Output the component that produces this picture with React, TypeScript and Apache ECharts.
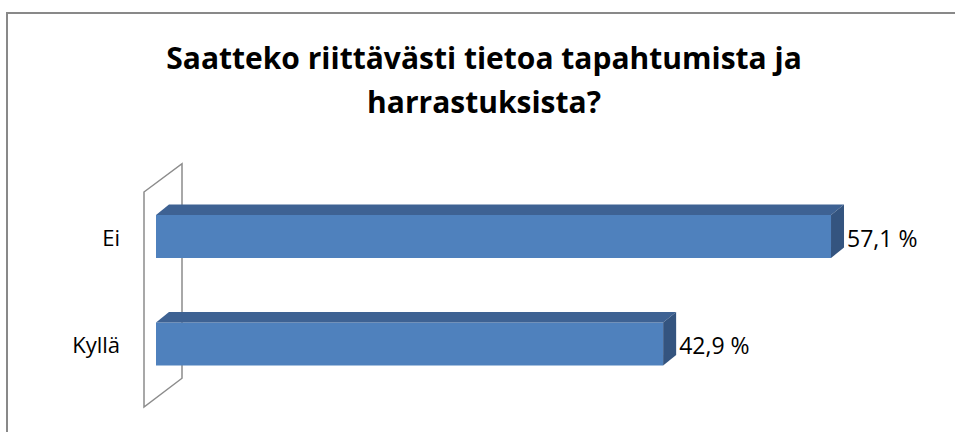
import React, { useEffect, useRef } from "react";
import * as echarts from "echarts";

const titleLines = ["Saatteko riittävästi tietoa tapahtumista ja", "harrastuksista?"];
const categories = ["Kyllä", "Ei"];
const values = [42.9, 57.1];

const FONT = "'Open Sans', 'Liberation Sans', sans-serif";

export default function App() {
  const ref = useRef<HTMLDivElement>(null);
  useEffect(() => {
    document.body.style.margin = "0";
    document.body.style.overflow = "hidden";
    document.documentElement.style.overflow = "hidden";
    const chart = echarts.init(ref.current!, null, { renderer: "svg" });
    const dx = 13;
    const dy = -10.5;
    const option: any = {
      animation: false,
      backgroundColor: "#ffffff",
      grid: { left: 156, right: 89.7, top: 182.75, bottom: 34.25, containLabel: false },
      xAxis: { type: "value", min: 0, max: 60, show: false },
      yAxis: {
        type: "category",
        data: categories,
        axisLine: { show: false },
        axisTick: { show: false },
        splitLine: { show: false },
        axisLabel: {
          margin: 36,
          color: "#000",
          fontSize: 22,
          fontFamily: FONT,
          verticalAlign: "middle",
          padding: [32, 0, 0, 0],
        },
      },
      graphic: [
        {
          type: "line",
          shape: { x1: 7, y1: 12, x2: 7, y2: 432 },
          style: { stroke: "#898989", lineWidth: 2 },
          z: 0,
        },
        {
          type: "line",
          shape: { x1: 6, y1: 13, x2: 955, y2: 13 },
          style: { stroke: "#898989", lineWidth: 2 },
          z: 0,
        },
        {
          type: "text",
          x: 484,
          y: 57,
          style: {
            text: titleLines[0],
            textAlign: "center",
            textVerticalAlign: "middle",
            font: `bold 30px ${FONT}`,
            fill: "#000",
          },
        },
        {
          type: "text",
          x: 484,
          y: 101,
          style: {
            text: titleLines[1],
            textAlign: "center",
            textVerticalAlign: "middle",
            font: `bold 30px ${FONT}`,
            fill: "#000",
          },
        },
      ],
      series: [
        {
          type: "custom",
          z: 1,
          silent: true,
          data: [[0, 0]],
          encode: { x: 0, y: 1 },
          renderItem: (params: any) => {
            const cs = params.coordSys;
            const fx = cs.x - 12;
            const bx = cs.x + 26;
            return {
              type: "polygon",
              shape: {
                points: [
                  [fx, cs.y + 9.25],
                  [bx, cs.y - 19],
                  [bx, cs.y + cs.height - 19.5],
                  [fx, cs.y + cs.height + 9.25],
                ],
              },
              style: { fill: "#ffffff", stroke: "#8c8c8c", lineWidth: 1.5 },
            };
          },
        },
        {
          type: "custom",
          z: 2,
          data: values.map((v, i) => [v, i]),
          encode: { x: 0, y: 1 },
          renderItem: (params: any, api: any) => {
            const v = api.value(0);
            const ci = api.value(1);
            const p0 = api.coord([0, ci]);
            const p1 = api.coord([v, ci]);
            const band = api.size([0, 1])[1];
            const h = band * 0.4;
            const top = p1[1] - h / 2;
            const bot = p1[1] + h / 2;
            const x0 = p0[0];
            const x1 = p1[0];
            return {
              type: "group",
              children: [
                {
                  type: "rect",
                  shape: { x: x0, y: top, width: x1 - x0, height: h },
                  style: { fill: "#4f81bd" },
                },
                {
                  type: "polygon",
                  shape: {
                    points: [
                      [x0, top],
                      [x0 + dx, top + dy],
                      [x1 + dx, top + dy],
                      [x1, top],
                    ],
                  },
                  style: { fill: "#3e6293" },
                },
                {
                  type: "polygon",
                  shape: {
                    points: [
                      [x1, top],
                      [x1 + dx, top + dy],
                      [x1 + dx, bot + dy],
                      [x1, bot],
                    ],
                  },
                  style: { fill: "#34547f" },
                },
                {
                  type: "text",
                  x: x1 + dx + 3,
                  y: p1[1] + 1,
                  style: {
                    text: v.toFixed(1).replace(".", ",") + " %",
                    textAlign: "left",
                    textVerticalAlign: "middle",
                    font: `23px ${FONT}`,
                    fill: "#000",
                  },
                },
              ],
            };
          },
        },
      ],
    };
    chart.setOption(option);
    return () => chart.dispose();
  }, []);
  return <div ref={ref} style={{ width: 955, height: 432 }} />;
}
